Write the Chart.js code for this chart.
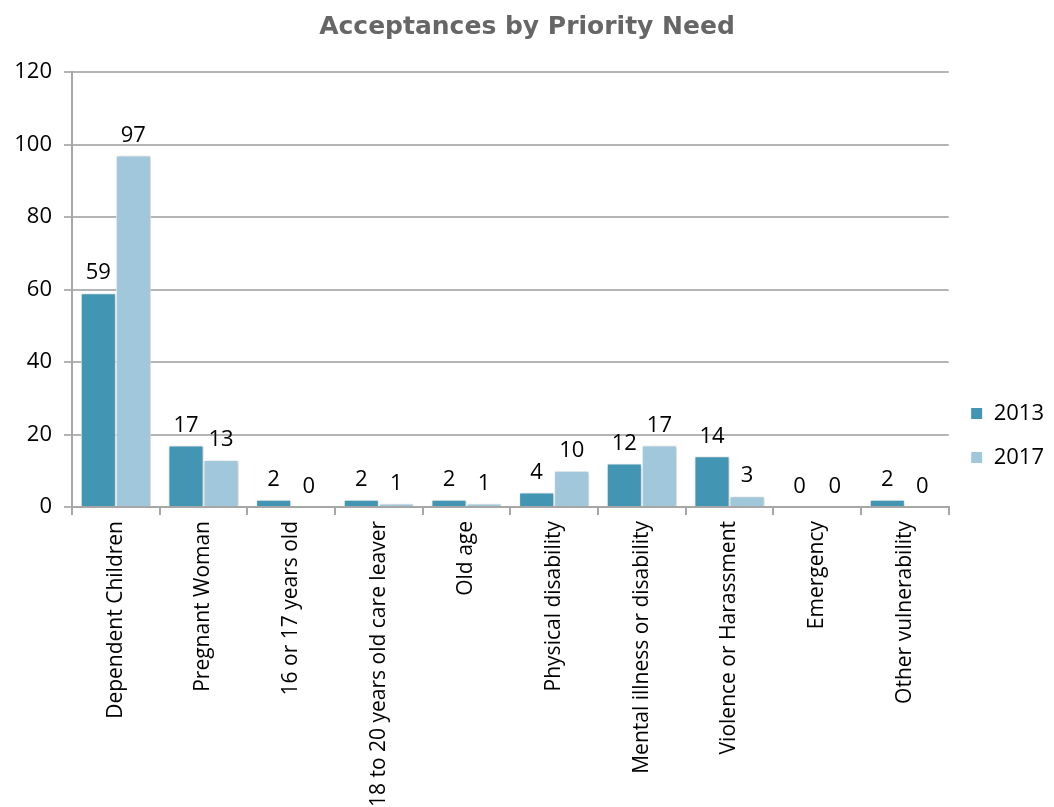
<!DOCTYPE html>
<html>
<head>
    <title>Acceptances by Priority Need</title>
    <script src="https://cdn.jsdelivr.net/npm/chart.js"></script>
    <style>
        html, body { margin: 0; padding: 0; background: #fff; }
        #chart-container { width: 1054px; height: 807px; }
    </style>
</head>
<body>
    <div id="chart-container">
        <canvas id="needChart"></canvas>
    </div>

    <script>
    // categories and yearly counts
    const categories = [
        'Dependent Children',
        'Pregnant Woman',
        '16 or 17 years old',
        '18 to 20 years old care leaver',
        'Old age',
        'Physical disability',
        'Mental illness or disability',
        'Violence or Harassment',
        'Emergency',
        'Other vulnerability'
    ];
    const values2013 = [59, 17, 2, 2, 2, 4, 12, 14, 0, 2];
    const values2017 = [97, 13, 0, 1, 1, 10, 17, 3, 0, 0];
    const yTicks = [0, 20, 40, 60, 80, 100, 120];

    const labelFont = { family: '"Open Sans", sans-serif', size: 22 };

    // writes the value above every bar
    const valueLabels = {
        id: 'valueLabels',
        afterDatasetsDraw(chart) {
            const ctx = chart.ctx;
            ctx.save();
            ctx.font = '22px "Open Sans", sans-serif';
            ctx.fillStyle = '#000';
            ctx.textAlign = 'center';
            ctx.textBaseline = 'bottom';
            chart.data.datasets.forEach((ds, i) => {
                chart.getDatasetMeta(i).data.forEach((bar, j) => {
                    ctx.fillText(ds.data[j], bar.x, bar.y - 9);
                });
            });
            ctx.restore();
        }
    };

    // soft shadow behind the bars
    const barShadow = {
        id: 'barShadow',
        beforeDatasetsDraw(chart) {
            const ctx = chart.ctx;
            ctx.save();
            ctx.shadowColor = 'rgba(0,0,0,0.25)';
            ctx.shadowBlur = 4;
            ctx.shadowOffsetX = 1;
            ctx.shadowOffsetY = 1;
        },
        afterDatasetsDraw(chart) {
            chart.ctx.restore();
        }
    };

    const ctx = document.getElementById('needChart').getContext('2d');
    new Chart(ctx, {
        type: 'bar',
        data: {
            labels: categories,
            datasets: [{
                label: '2013',
                data: values2013,
                backgroundColor: '#4396b3',
                borderColor: '#ffffff',
                borderWidth: 1
            }, {
                label: '2017',
                data: values2017,
                backgroundColor: '#a1c8da',
                borderColor: '#ffffff',
                borderWidth: 1
            }]
        },
        options: {
            responsive: true,
            maintainAspectRatio: false,
            animation: false,
            layout: { padding: { left: 0, right: 0, top: 0, bottom: 0 } },
            categoryPercentage: 0.8,
            barPercentage: 1.0,
            plugins: {
                title: {
                    display: true,
                    text: 'Acceptances by Priority Need',
                    color: '#666666',
                    font: { family: 'Verdana, "DejaVu Sans", sans-serif', size: 25, weight: 'bold' },
                    padding: { top: 12, bottom: 30 }
                },
                legend: {
                    position: 'right',
                    // empty title only pushes the items a bit lower
                    title: {
                        display: true,
                        text: '',
                        font: { size: 10 },
                        padding: { top: 26, bottom: 26 }
                    },
                    labels: {
                        boxWidth: 12,
                        boxHeight: 12,
                        color: '#000',
                        font: labelFont,
                        padding: 22
                    }
                },
                tooltip: { enabled: false }
            },
            scales: {
                x: {
                    grid: {
                        offset: true,
                        drawOnChartArea: false,
                        tickLength: 8,
                        color: '#a6a6a6',
                        lineWidth: 2
                    },
                    border: { color: '#a6a6a6', width: 2 },
                    ticks: {
                        color: '#000',
                        font: { family: '"Open Sans", sans-serif', size: 21 },
                        minRotation: 90,
                        maxRotation: 90,
                        autoSkip: false,
                        padding: 6
                    },
                    afterFit(axis) { axis.height = 300; }
                },
                y: {
                    min: 0,
                    max: 120,
                    afterBuildTicks(axis) { axis.ticks = yTicks.map(v => ({ value: v })); },
                    grid: { color: '#b4b4b4', lineWidth: 2, tickLength: 8 },
                    border: { color: '#a6a6a6', width: 2 },
                    ticks: {
                        color: '#000',
                        font: labelFont,
                        padding: 12
                    },
                    afterFit(axis) { axis.width = 72; }
                }
            }
        },
        plugins: [barShadow, valueLabels]
    });
    </script>
</body>
</html>
